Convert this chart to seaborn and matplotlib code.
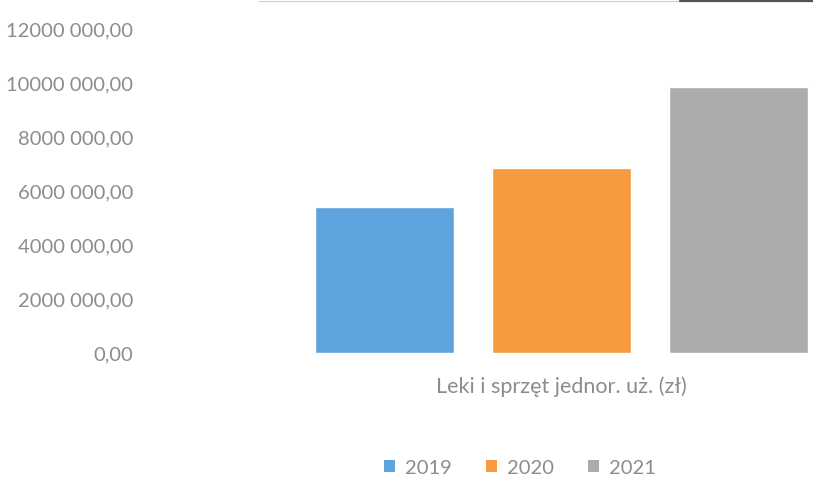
import matplotlib
matplotlib.use("Agg")
import matplotlib.pyplot as plt
from matplotlib.lines import Line2D
from matplotlib.ticker import FuncFormatter
import seaborn as sns
import pandas as pd

categories = ["Leki i sprzęt jednor. uż. (zł)"]
years = ["2019", "2020", "2021"]
values = [5400000, 6850000, 9850000]
colors = ["#5DA3DE", "#F79B40", "#ACACAC"]
y_ticks = [0, 2000000, 4000000, 6000000, 8000000, 10000000, 12000000]

df = pd.DataFrame({
    "kategoria": categories * len(years),
    "rok": years,
    "wartosc": values,
})

sns.set_theme(style="white")
plt.rcParams["font.family"] = ["Lato", "DejaVu Sans"]
text_color = "#8c8c8c"

fig = plt.figure(figsize=(8.13, 4.83), dpi=100)
ax = fig.add_axes([150 / 813, 1 - 353 / 483, (813 - 150) / 813, 324 / 483])

sns.barplot(data=df, x="kategoria", y="wartosc", hue="rok", palette=colors,
            width=0.8, gap=0.215, ax=ax, legend=False, saturation=1)

ax.set_xlim((150 - 561.5) / 663.75, (813 - 561.5) / 663.75)
ax.set_ylim(0, 12000000)
ax.set_yticks(y_ticks)


def fmt(v, pos):
    v = int(round(v))
    if v == 0:
        return "0,00"
    return f"{v // 1000} 000,00"


ax.yaxis.set_major_formatter(FuncFormatter(fmt))
ax.tick_params(axis="y", length=0, pad=12, labelsize=14.5, labelcolor=text_color)
ax.tick_params(axis="x", length=0, pad=17, labelsize=15.5, labelcolor=text_color)
ax.set_xlabel("")
ax.set_ylabel("")
for s in ax.spines.values():
    s.set_visible(False)
ax.grid(False)

handles = [plt.Rectangle((0, 0), 1, 1, facecolor=c, edgecolor="none") for c in colors]
fig.legend(handles, years, loc="center", bbox_to_anchor=(520 / 813, 1 - 468 / 483),
           ncol=3, frameon=False, prop={"size": 14.5},
           labelcolor=text_color,
           handlelength=0.55, handleheight=0.55, handletextpad=0.5, columnspacing=1.7)

# scan edge artifact at the top
fig.add_artist(Line2D([259 / 813, 1], [0.998, 0.998], color="#d0d0d0", lw=0.8))
fig.add_artist(Line2D([680 / 813, 1], [0.997, 0.997], color="#555555", lw=1.6))

fig.savefig("out.png", dpi=100, facecolor="white")
